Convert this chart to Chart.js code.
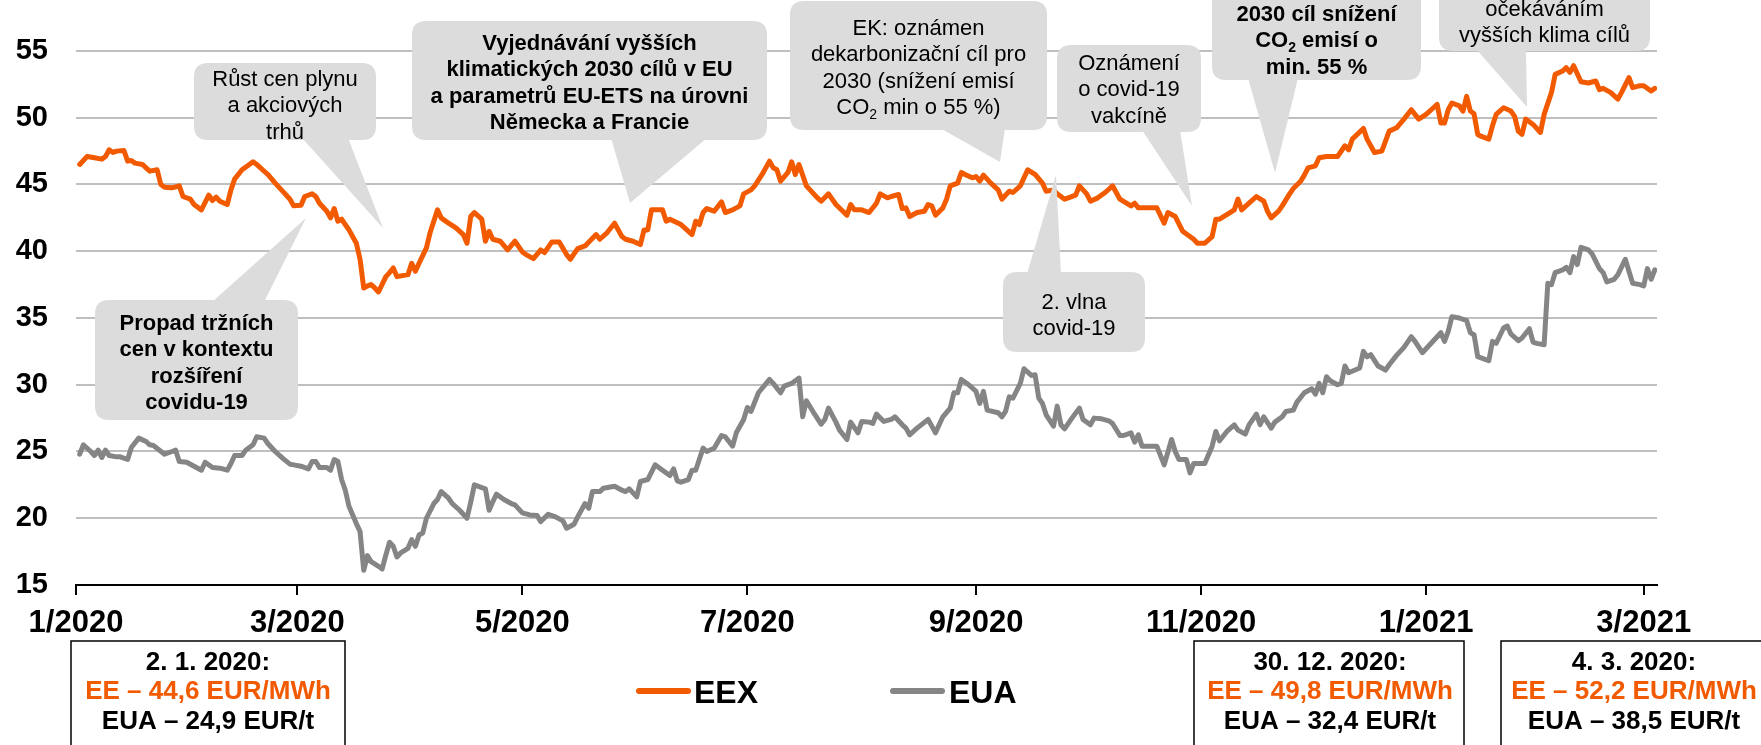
<!DOCTYPE html>
<html><head><meta charset="utf-8">
<script src="https://cdn.jsdelivr.net/npm/chart.js@4.4.1/dist/chart.umd.min.js"></script>
<style>html,body{margin:0;padding:0;background:#fff;overflow:hidden}canvas{display:block}</style>
</head><body>
<canvas id="c" width="1761" height="745"></canvas>
<script>
const eexDates = ['2020-01-02','2020-01-04','2020-01-06','2020-01-08','2020-01-09','2020-01-10','2020-01-11','2020-01-12','2020-01-14','2020-01-15','2020-01-16','2020-01-17','2020-01-19','2020-01-20','2020-01-21','2020-01-23','2020-01-24','2020-01-25','2020-01-27','2020-01-29','2020-01-30','2020-02-01','2020-02-02','2020-02-04','2020-02-06','2020-02-07','2020-02-08','2020-02-09','2020-02-11','2020-02-12','2020-02-13','2020-02-15','2020-02-17','2020-02-18','2020-02-19','2020-02-20','2020-02-22','2020-02-24','2020-02-26','2020-02-28','2020-02-29','2020-03-02','2020-03-03','2020-03-05','2020-03-06','2020-03-07','2020-03-09','2020-03-10','2020-03-11','2020-03-12','2020-03-13','2020-03-15','2020-03-17','2020-03-18','2020-03-19','2020-03-20','2020-03-21','2020-03-22','2020-03-23','2020-03-25','2020-03-26','2020-03-27','2020-03-28','2020-03-31','2020-04-01','2020-04-02','2020-04-03','2020-04-05','2020-04-06','2020-04-08','2020-04-09','2020-04-11','2020-04-13','2020-04-15','2020-04-16','2020-04-17','2020-04-18','2020-04-20','2020-04-21','2020-04-22','2020-04-23','2020-04-25','2020-04-27','2020-04-29','2020-05-01','2020-05-02','2020-05-04','2020-05-06','2020-05-07','2020-05-09','2020-05-11','2020-05-13','2020-05-14','2020-05-16','2020-05-18','2020-05-21','2020-05-22','2020-05-24','2020-05-26','2020-05-28','2020-05-29','2020-05-31','2020-06-02','2020-06-03','2020-06-04','2020-06-05','2020-06-08','2020-06-09','2020-06-10','2020-06-13','2020-06-14','2020-06-16','2020-06-17','2020-06-18','2020-06-19','2020-06-20','2020-06-22','2020-06-24','2020-06-25','2020-06-27','2020-06-29','2020-06-30','2020-07-02','2020-07-03','2020-07-05','2020-07-07','2020-07-08','2020-07-09','2020-07-10','2020-07-12','2020-07-13','2020-07-14','2020-07-15','2020-07-17','2020-07-20','2020-07-21','2020-07-23','2020-07-25','2020-07-28','2020-07-29','2020-07-30','2020-08-01','2020-08-03','2020-08-05','2020-08-06','2020-08-08','2020-08-09','2020-08-11','2020-08-12','2020-08-13','2020-08-14','2020-08-16','2020-08-18','2020-08-19','2020-08-20','2020-08-21','2020-08-23','2020-08-24','2020-08-25','2020-08-27','2020-08-28','2020-08-29','2020-08-31','2020-09-01','2020-09-02','2020-09-03','2020-09-05','2020-09-07','2020-09-08','2020-09-10','2020-09-11','2020-09-13','2020-09-15','2020-09-17','2020-09-19','2020-09-20','2020-09-22','2020-09-23','2020-09-25','2020-09-26','2020-09-28','2020-09-29','2020-10-01','2020-10-02','2020-10-04','2020-10-06','2020-10-08','2020-10-09','2020-10-10','2020-10-13','2020-10-14','2020-10-15','2020-10-18','2020-10-20','2020-10-22','2020-10-23','2020-10-25','2020-10-27','2020-10-30','2020-10-31','2020-11-02','2020-11-04','2020-11-05','2020-11-06','2020-11-08','2020-11-10','2020-11-11','2020-11-12','2020-11-14','2020-11-16','2020-11-18','2020-11-19','2020-11-20','2020-11-22','2020-11-23','2020-11-25','2020-11-26','2020-11-28','2020-11-29','2020-11-30','2020-12-02','2020-12-03','2020-12-05','2020-12-07','2020-12-08','2020-12-10','2020-12-11','2020-12-12','2020-12-15','2020-12-16','2020-12-18','2020-12-20','2020-12-22','2020-12-24','2020-12-26','2020-12-28','2020-12-30','2021-01-01','2021-01-03','2021-01-04','2021-01-05','2021-01-06','2021-01-07','2021-01-08','2021-01-10','2021-01-11','2021-01-12','2021-01-13','2021-01-14','2021-01-15','2021-01-16','2021-01-18','2021-01-19','2021-01-20','2021-01-22','2021-01-24','2021-01-25','2021-01-26','2021-01-27','2021-01-28','2021-01-30','2021-02-01','2021-02-02','2021-02-04','2021-02-05','2021-02-07','2021-02-08','2021-02-09','2021-02-10','2021-02-12','2021-02-14','2021-02-16','2021-02-17','2021-02-18','2021-02-20','2021-02-22','2021-02-23','2021-02-25','2021-02-26','2021-02-28','2021-03-01','2021-03-03','2021-03-04'];
const eexValues = [46.5,47.1,47.0,46.9,47.1,47.6,47.4,47.5,47.55,46.75,46.8,46.6,46.5,46.25,46.0,46.1,45.0,44.8,44.75,44.9,44.1,43.9,43.5,43.1,44.2,43.8,44.05,43.75,43.5,44.6,45.4,46.1,46.5,46.7,46.5,46.25,45.75,45.1,44.5,43.9,43.4,43.45,44.1,44.3,44.1,43.6,43.0,42.5,43.2,42.25,42.4,41.6,40.6,39.4,37.25,37.4,37.5,37.25,36.95,38.1,38.4,38.75,38.1,38.25,39.1,38.5,39.1,40.25,41.4,43.1,42.5,42.1,41.75,41.25,40.6,42.6,42.9,42.4,40.75,41.5,40.9,40.75,40.1,40.75,39.95,39.75,39.45,40.1,39.9,40.7,40.7,39.75,39.4,40.2,40.4,41.25,40.9,41.4,42.1,41.1,40.9,40.75,40.5,41.6,41.6,43.1,43.1,42.25,42.4,42.0,41.75,41.25,42.25,42.0,42.9,43.2,43.0,43.7,42.9,43.1,43.4,44.3,44.6,44.9,45.75,46.75,46.25,46.1,45.25,45.9,46.7,45.75,46.5,44.9,44.0,43.75,44.3,43.5,42.7,43.5,43.1,43.1,42.9,43.6,44.3,44.0,44.1,44.25,43.2,43.25,42.6,42.9,43.0,43.5,43.4,42.7,43.25,43.9,44.9,45.1,45.9,45.75,45.5,45.6,45.25,45.7,45.1,44.6,43.9,44.5,44.4,44.9,46.1,45.75,45.1,44.5,44.6,44.3,43.9,44.0,44.2,44.9,44.3,43.75,44.0,44.4,44.9,44.4,43.9,43.4,43.6,43.25,43.25,43.25,42.1,42.9,42.6,41.5,40.9,40.6,40.6,41.1,42.4,42.4,42.75,43.1,43.9,43.1,43.6,44.1,43.75,43.0,42.5,43.0,43.4,44.3,44.7,45.25,45.7,46.25,46.4,47.0,47.1,47.1,47.1,47.9,47.6,48.4,49.2,48.4,47.4,47.5,49.0,49.25,49.9,50.6,49.9,50.25,50.75,51.0,49.6,49.6,50.6,51.1,50.9,50.5,51.6,50.5,50.3,48.75,48.6,48.4,49.4,50.25,50.75,50.5,50.1,49.0,48.75,49.9,49.5,48.9,50.25,51.9,53.25,53.5,53.75,53.4,53.9,52.7,52.6,52.75,52.1,52.2,51.9,51.4,51.9,53.0,52.25,52.4,52.4,52.0,52.2];
const euaDates = ['2020-01-02','2020-01-03','2020-01-05','2020-01-06','2020-01-07','2020-01-08','2020-01-09','2020-01-10','2020-01-12','2020-01-13','2020-01-15','2020-01-16','2020-01-18','2020-01-20','2020-01-21','2020-01-22','2020-01-25','2020-01-27','2020-01-28','2020-01-29','2020-01-31','2020-02-02','2020-02-04','2020-02-05','2020-02-07','2020-02-09','2020-02-11','2020-02-12','2020-02-13','2020-02-15','2020-02-16','2020-02-18','2020-02-19','2020-02-21','2020-02-22','2020-02-24','2020-02-26','2020-02-28','2020-02-29','2020-03-02','2020-03-04','2020-03-05','2020-03-06','2020-03-07','2020-03-09','2020-03-10','2020-03-11','2020-03-12','2020-03-13','2020-03-14','2020-03-15','2020-03-17','2020-03-18','2020-03-19','2020-03-20','2020-03-21','2020-03-23','2020-03-24','2020-03-25','2020-03-26','2020-03-27','2020-03-28','2020-03-29','2020-03-31','2020-04-01','2020-04-02','2020-04-03','2020-04-04','2020-04-05','2020-04-07','2020-04-08','2020-04-09','2020-04-11','2020-04-12','2020-04-14','2020-04-16','2020-04-17','2020-04-18','2020-04-20','2020-04-21','2020-04-22','2020-04-23','2020-04-24','2020-04-26','2020-04-28','2020-04-29','2020-05-01','2020-05-03','2020-05-05','2020-05-06','2020-05-08','2020-05-10','2020-05-12','2020-05-13','2020-05-15','2020-05-16','2020-05-18','2020-05-19','2020-05-20','2020-05-22','2020-05-23','2020-05-26','2020-05-28','2020-05-29','2020-05-30','2020-06-01','2020-06-02','2020-06-04','2020-06-06','2020-06-08','2020-06-10','2020-06-11','2020-06-12','2020-06-13','2020-06-15','2020-06-16','2020-06-17','2020-06-19','2020-06-20','2020-06-22','2020-06-24','2020-06-25','2020-06-27','2020-06-28','2020-06-30','2020-07-01','2020-07-02','2020-07-04','2020-07-07','2020-07-08','2020-07-10','2020-07-11','2020-07-13','2020-07-15','2020-07-16','2020-07-17','2020-07-19','2020-07-21','2020-07-22','2020-07-23','2020-07-25','2020-07-26','2020-07-28','2020-07-29','2020-07-31','2020-08-01','2020-08-03','2020-08-04','2020-08-05','2020-08-07','2020-08-09','2020-08-10','2020-08-12','2020-08-13','2020-08-14','2020-08-16','2020-08-19','2020-08-20','2020-08-21','2020-08-23','2020-08-25','2020-08-26','2020-08-27','2020-08-28','2020-08-30','2020-09-01','2020-09-02','2020-09-03','2020-09-04','2020-09-07','2020-09-08','2020-09-09','2020-09-10','2020-09-11','2020-09-13','2020-09-14','2020-09-16','2020-09-17','2020-09-18','2020-09-19','2020-09-20','2020-09-22','2020-09-23','2020-09-24','2020-09-25','2020-09-27','2020-09-29','2020-09-30','2020-10-02','2020-10-03','2020-10-05','2020-10-07','2020-10-08','2020-10-10','2020-10-11','2020-10-13','2020-10-14','2020-10-15','2020-10-16','2020-10-18','2020-10-20','2020-10-22','2020-10-24','2020-10-25','2020-10-26','2020-10-28','2020-10-29','2020-10-30','2020-11-02','2020-11-04','2020-11-05','2020-11-06','2020-11-08','2020-11-10','2020-11-11','2020-11-13','2020-11-14','2020-11-16','2020-11-17','2020-11-18','2020-11-20','2020-11-21','2020-11-23','2020-11-24','2020-11-26','2020-11-27','2020-11-29','2020-12-01','2020-12-02','2020-12-03','2020-12-04','2020-12-05','2020-12-06','2020-12-08','2020-12-09','2020-12-10','2020-12-11','2020-12-14','2020-12-15','2020-12-16','2020-12-17','2020-12-19','2020-12-21','2020-12-22','2020-12-24','2020-12-26','2020-12-28','2020-12-29','2020-12-31','2021-01-02','2021-01-05','2021-01-06','2021-01-07','2021-01-08','2021-01-10','2021-01-12','2021-01-13','2021-01-14','2021-01-15','2021-01-17','2021-01-18','2021-01-19','2021-01-20','2021-01-22','2021-01-23','2021-01-24','2021-01-26','2021-01-27','2021-01-29','2021-01-30','2021-01-31','2021-02-02','2021-02-03','2021-02-04','2021-02-05','2021-02-07','2021-02-08','2021-02-09','2021-02-10','2021-02-11','2021-02-12','2021-02-14','2021-02-15','2021-02-17','2021-02-18','2021-02-19','2021-02-21','2021-02-22','2021-02-24','2021-02-26','2021-02-28','2021-03-01','2021-03-02','2021-03-03','2021-03-04'];
const euaValues = [24.8,25.5,25.0,24.7,25.1,24.55,25.1,24.7,24.6,24.6,24.4,25.3,26.0,25.75,25.5,25.45,24.8,25.0,25.1,24.25,24.2,23.9,23.6,24.2,23.8,23.75,23.6,24.1,24.7,24.7,25.1,25.5,26.1,26.0,25.6,25.0,24.5,24.05,24.0,23.9,23.7,24.25,24.25,23.8,23.8,23.6,24.4,24.25,22.9,22.1,20.9,19.6,19.0,16.1,17.2,16.75,16.4,16.2,17.25,18.2,17.9,17.1,17.4,17.75,18.4,17.9,18.75,18.9,20.0,21.1,21.4,22.0,21.5,21.1,20.6,20.0,21.2,22.5,22.3,22.2,20.6,21.25,21.8,21.4,21.1,21.0,20.4,20.25,20.2,19.75,20.3,20.1,19.8,19.25,19.55,20.1,21.1,20.75,22.0,22.0,22.25,22.4,22.1,22.0,22.2,21.6,22.75,22.9,24.0,23.6,23.2,23.7,22.8,22.7,22.9,23.6,23.6,25.25,25.0,25.25,26.2,26.1,25.4,26.4,27.4,28.3,28.0,29.4,30.4,30.1,29.4,29.9,30.1,30.5,27.6,28.8,27.9,27.05,27.4,28.25,27.2,26.6,25.9,27.2,26.4,27.25,27.2,27.1,27.8,27.25,27.4,27.6,27.0,26.75,26.25,26.75,27.4,26.9,26.4,27.6,28.25,29.4,29.4,30.4,30.0,29.5,28.6,29.5,28.1,27.9,27.6,28.0,29.1,29.0,30.1,31.2,30.7,30.75,29.0,28.6,27.75,26.9,28.4,27.0,26.7,27.5,28.25,27.4,27.0,27.5,27.45,27.3,27.1,26.2,26.2,26.4,25.7,26.25,25.4,25.4,25.4,24.0,25.9,25.0,24.4,24.4,23.4,24.1,24.1,25.4,26.5,25.8,26.5,27.0,26.6,26.3,27.0,27.8,27.0,27.6,26.75,27.2,27.6,28.0,28.1,28.7,29.4,29.7,29.3,30.1,29.4,30.6,30.3,30.0,30.1,31.4,30.9,31.25,32.5,32.1,32.25,31.4,31.1,31.5,32.2,32.8,33.6,33.25,32.4,33.0,33.9,33.25,34.0,35.1,35.0,34.8,33.9,33.75,32.1,31.9,31.8,33.25,33.1,34.25,34.4,33.8,33.3,33.5,34.2,33.2,33.1,33.0,37.6,37.5,38.4,38.6,38.8,38.4,39.6,39.0,40.3,40.1,39.8,38.7,38.4,37.7,37.9,38.25,39.4,37.6,37.5,37.4,38.7,37.9,38.6];
const seriesNames = ['EEX','EUA'];
const seriesColors = ['#f25a00','#858585'];
const tickDates = ['2020-01-01','2020-03-01','2020-05-01','2020-07-01','2020-09-01','2020-11-01','2021-01-01','2021-03-01'];
const tickLabels = ['1/2020','3/2020','5/2020','7/2020','9/2020','11/2020','1/2021','3/2021'];
const yTicks = [15,20,25,30,35,40,45,50,55];
const summaryDates = ['2. 1. 2020:','30. 12. 2020:','4. 3. 2020:'];
const summaryEE = ['EE – 44,6 EUR/MWh','EE – 49,8 EUR/MWh','EE – 52,2 EUR/MWh'];
const summaryEUA = ['EUA – 24,9 EUR/t','EUA – 32,4 EUR/t','EUA – 38,5 EUR/t'];

const FONT = "'Liberation Sans', Arial, Helvetica, sans-serif";
const T0 = Date.parse('2020-01-01');
const dayOf = s => (Date.parse(s) - T0) / 864e5;
const tickDays = tickDates.map(dayOf);

const callouts = [
 {box:[194,63,376,140], ptr:[[302,138],[348,138],[383,228]], bold:false, y0:78, lines:['Růst cen plynu','a akciových','trhů']},
 {box:[412,21,767,140], ptr:[[611,138],[707,138],[630,203]], bold:true, y0:42, lines:['Vyjednávání vyšších','klimatických 2030 cílů v EU','a parametrů EU-ETS na úrovni','Německa a Francie']},
 {box:[790,1,1047,130], ptr:[[940,128],[1005,128],[1000,162]], bold:false, y0:27, lines:['EK: oznámen','dekarbonizační cíl pro','2030 (snížení emisí','CO₂ min o 55 %)']},
 {box:[1057,45,1201,132], ptr:[[1142,130],[1180,130],[1192,206]], bold:false, y0:62, lines:['Oznámení','o covid-19','vakcíně']},
 {box:[1003,272,1145,352], ptr:[[1027,274],[1061,274],[1056,175]], bold:false, y0:301, lines:['2. vlna','covid-19']},
 {box:[95,300,298,420], ptr:[[212,302],[264,302],[306,218]], bold:true, y0:322, lines:['Propad tržních','cen v kontextu','rozšíření','covidu-19']},
 {box:[1212,-40,1421,80], ptr:[[1248,78],[1298,78],[1275,173]], bold:true, y0:13, lines:['2030 cíl snížení','CO₂ emisí o','min. 55 %']},
 {box:[1439,-40,1650,51], ptr:[[1476,49],[1526,49],[1527,107]], bold:false, y0:8, lines:['očekáváním','vyšších klima cílů']}
];
const summaryBoxes = [[71,641,345,770,208],[1194,641,1464,770,1330],[1501,641,1790,770,1634]];

function drawRich(ctx, text, cx, cy, size, weight, color){
  const main = weight + ' ' + size + 'px ' + FONT;
  const sub = weight + ' ' + Math.round(size*0.65) + 'px ' + FONT;
  const parts = text.split('₂');
  const segs = [];
  parts.forEach((p,i)=>{
    ctx.font = main; segs.push({t:p,f:main,w:ctx.measureText(p).width,dy:0});
    if(i<parts.length-1){ ctx.font = sub; segs.push({t:'2',f:sub,w:ctx.measureText('2').width,dy:size*0.22}); }
  });
  const w = segs.reduce((a,s)=>a+s.w,0);
  let x = cx - w/2; const base = cy + size*0.36;
  ctx.fillStyle = color; ctx.textAlign = 'left'; ctx.textBaseline = 'alphabetic';
  segs.forEach(s=>{ ctx.font = s.f; ctx.fillText(s.t, x, base + s.dy); x += s.w; });
}
function rrect(ctx,x1,y1,x2,y2,r){
  ctx.beginPath();
  ctx.moveTo(x1+r,y1); ctx.lineTo(x2-r,y1); ctx.quadraticCurveTo(x2,y1,x2,y1+r);
  ctx.lineTo(x2,y2-r); ctx.quadraticCurveTo(x2,y2,x2-r,y2);
  ctx.lineTo(x1+r,y2); ctx.quadraticCurveTo(x1,y2,x1,y2-r);
  ctx.lineTo(x1,y1+r); ctx.quadraticCurveTo(x1,y1,x1+r,y1); ctx.closePath();
}

const annot = {
  id:'annot',
  afterDatasetsDraw(chart){
    const ctx = chart.ctx; ctx.save();
    callouts.forEach(c=>{
      const [x1,y1,x2,y2] = c.box;
      ctx.fillStyle = '#dcdcdc';
      rrect(ctx,x1,y1,x2,y2,14); ctx.fill();
      ctx.beginPath(); ctx.moveTo(c.ptr[0][0],c.ptr[0][1]); ctx.lineTo(c.ptr[1][0],c.ptr[1][1]); ctx.lineTo(c.ptr[2][0],c.ptr[2][1]); ctx.closePath(); ctx.fill();
      const cx = (x1+x2)/2;
      c.lines.forEach((l,i)=> drawRich(ctx,l,cx,c.y0+i*26.5,22,c.bold?'bold':'normal','#000'));
    });
    ctx.restore();
  },
  afterDraw(chart){
    const ctx = chart.ctx; ctx.save();
    const leg = [[639,688,694],[893,942,949]];
    chart.data.datasets.forEach((ds,i)=>{
      const [a,b,tx] = leg[i];
      ctx.strokeStyle = ds.borderColor; ctx.lineWidth = 6; ctx.lineCap = 'round';
      ctx.beginPath(); ctx.moveTo(a,691); ctx.lineTo(b,691); ctx.stroke();
      ctx.font = 'bold 32px ' + FONT; ctx.fillStyle = '#000'; ctx.textAlign='left'; ctx.textBaseline='alphabetic';
      ctx.fillText(ds.label, tx, 691 + 32*0.36);
    });
    summaryBoxes.forEach((b,i)=>{
      ctx.strokeStyle = '#000'; ctx.lineWidth = 1.5;
      ctx.strokeRect(b[0],b[1],b[2]-b[0],b[3]-b[1]);
      drawRich(ctx,summaryDates[i],b[4],661,26,'bold','#000');
      drawRich(ctx,summaryEE[i],b[4],690,26,'bold',seriesColors[0]);
      drawRich(ctx,summaryEUA[i],b[4],720,26,'bold','#000');
    });
    ctx.restore();
  }
};

const toPts = (dates, vals) => dates.map((d,i)=>({x:dayOf(d), y:vals[i]}));

new Chart(document.getElementById('c'), {
  type:'line',
  data:{ datasets:[
    {label:seriesNames[0], data:toPts(eexDates,eexValues), borderColor:seriesColors[0], backgroundColor:seriesColors[0], borderWidth:5, pointRadius:0, tension:0, borderJoinStyle:'round', borderCapStyle:'round'},
    {label:seriesNames[1], data:toPts(euaDates,euaValues), borderColor:seriesColors[1], backgroundColor:seriesColors[1], borderWidth:5, pointRadius:0, tension:0, borderJoinStyle:'round', borderCapStyle:'round'}
  ]},
  options:{
    responsive:false, animation:false, devicePixelRatio:1,
    layout:{padding:{left:0,right:104,top:0,bottom:0}},
    plugins:{legend:{display:false}, tooltip:{enabled:false}},
    scales:{
      x:{type:'linear', min:0, max:428.6,
        afterBuildTicks:(ax)=>{ ax.ticks = tickDays.map(v=>({value:v})); },
        afterFit:(ax)=>{ ax.height = 160; ax.paddingLeft = 0; ax.paddingRight = 0; },
        grid:{drawOnChartArea:false, drawTicks:true, tickLength:10, color:'#000', lineWidth:2},
        border:{display:true, color:'#000', width:2},
        ticks:{autoSkip:false, maxRotation:0, padding:10, color:'#000', font:{family:FONT, size:31, weight:'bold'},
          callback:(v)=>{ const i = tickDays.findIndex(t=>Math.abs(t-v)<0.01); return i>=0 ? tickLabels[i] : ''; }}
      },
      y:{min:15, max:58.82,
        afterBuildTicks:(ax)=>{ ax.ticks = yTicks.map(v=>({value:v})); },
        afterFit:(ax)=>{ ax.width = 76; ax.paddingTop = 0; ax.paddingBottom = 0; },
        grid:{drawTicks:false, color:(c)=> c.tick && c.tick.value===15 ? 'rgba(0,0,0,0)' : '#bfbfbf', lineWidth:2},
        border:{display:false},
        ticks:{padding:28, color:'#000', font:{family:FONT, size:29, weight:'bold'}}
      }
    }
  },
  plugins:[annot]
});
</script>
</body></html>
